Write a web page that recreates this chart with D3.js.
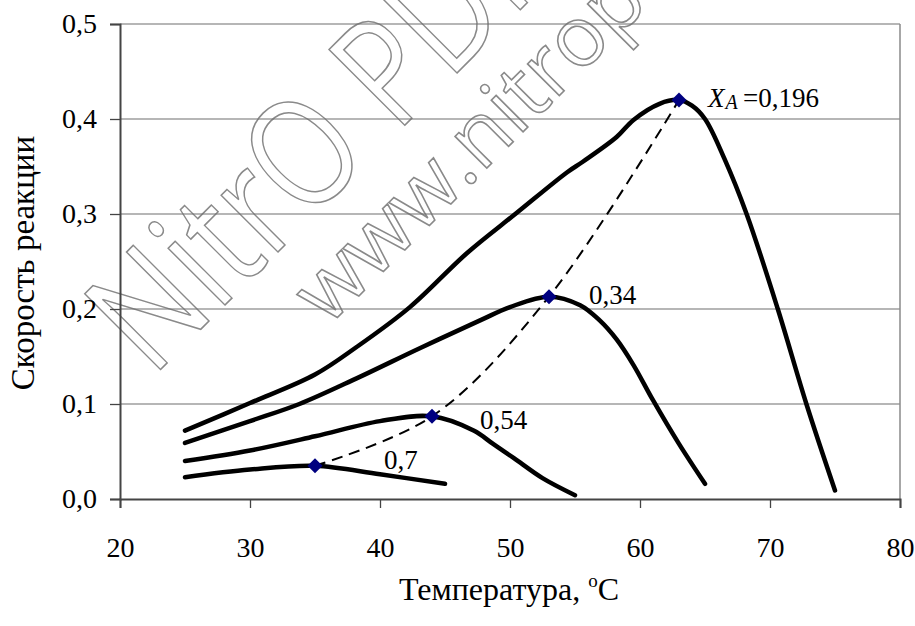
<!DOCTYPE html>
<html>
<head>
<meta charset="utf-8">
<script src="https://cdn.jsdelivr.net/npm/d3@7"></script>
<style>
  html, body { margin: 0; padding: 0; background: #fff; }
  svg { display: block; }
</style>
</head>
<body>
<svg id="chart" width="915" height="626"></svg>
<script>
// ---- data ----
const xTicks = [20, 30, 40, 50, 60, 70, 80];
const yTicks = [0.0, 0.1, 0.2, 0.3, 0.4, 0.5];

const t196 = [25, 30, 35, 38.2, 42.3, 46.7, 50.5, 54.4, 55.6, 58.2, 59.5, 61.5, 63, 64, 65, 66.5, 68.2, 70.6, 72.8, 75];
const r196 = [0.072, 0.101, 0.131, 0.160, 0.202, 0.259, 0.301, 0.344, 0.355, 0.381, 0.399, 0.416, 0.420, 0.414, 0.400, 0.358, 0.300, 0.200, 0.100, 0.009];

const t34 = [25, 30, 33.8, 38.2, 43.1, 47.7, 50, 53, 55.4, 56.9, 58.2, 59.5, 61, 63, 65];
const r34 = [0.059, 0.082, 0.100, 0.127, 0.159, 0.188, 0.202, 0.213, 0.204, 0.188, 0.168, 0.141, 0.104, 0.058, 0.016];

const t54 = [25, 30, 35, 40, 44, 47.2, 48.7, 50.3, 52.5, 55];
const r54 = [0.040, 0.051, 0.066, 0.082, 0.087, 0.072, 0.058, 0.043, 0.022, 0.004];

const t7 = [25, 30, 35, 40, 45];
const r7 = [0.023, 0.031, 0.035, 0.026, 0.016];

const peakT = [35, 44, 53, 63];
const peakR = [0.035, 0.087, 0.213, 0.420];

const curveLabels = ["0,196", "0,34", "0,54", "0,7"];

const xTitle = "Температура, ";
const yTitle = "Скорость реакции";

// ---- drawing ----
const svg = d3.select("#chart");
const W = 915, H = 626;
svg.append("rect").attr("width", W).attr("height", H).attr("fill", "#fff");

const x = d3.scaleLinear().domain([20, 80]).range([120, 900]);
const y = d3.scaleLinear().domain([0, 0.5]).range([499, 24]);
const serif = "'Liberation Serif', 'Times New Roman', serif";

// watermark (outlined text)
const wm = svg.append("g").attr("fill", "none").attr("stroke", "#8a8a8a").attr("stroke-width", 1.6)
  .style("font-family", "'Open Sans', 'DejaVu Sans', sans-serif");
wm.append("text").attr("transform", "translate(152,378) rotate(-45) scale(0.82,1)")
  .attr("font-size", 150).text("NitrO PDF");
wm.append("text").attr("transform", "translate(328,327) rotate(-45)")
  .attr("font-size", 84).text("www.nitropdf.com");

// gridlines
svg.append("g").selectAll("line").data(yTicks.filter(d => d > 0)).join("line")
  .attr("x1", x(20)).attr("x2", x(80))
  .attr("y1", d => y(d)).attr("y2", d => y(d))
  .attr("stroke", "#6e6e6e").attr("stroke-width", 1.2);

// right border
svg.append("line").attr("x1", x(80)).attr("x2", x(80)).attr("y1", y(0.5)).attr("y2", y(0))
  .attr("stroke", "#8a8a8a").attr("stroke-width", 1.5);

const fmt = d => d3.format(".1f")(d).replace(".", ",");

const gy = svg.append("g").attr("transform", `translate(${x(20)},0)`)
  .call(d3.axisLeft(y).tickValues(yTicks).tickSize(10).tickPadding(13).tickFormat(fmt));
const gx = svg.append("g").attr("transform", `translate(0,${y(0)})`)
  .call(d3.axisBottom(x).tickValues(xTicks).tickSize(9).tickPadding(29).tickFormat(d3.format("d")));
[gx, gy].forEach(g => {
  g.select(".domain").attr("stroke", "#444").attr("stroke-width", 2);
  g.selectAll(".tick line").attr("stroke", "#444").attr("stroke-width", 1.3);
  g.selectAll(".tick text").attr("fill", "#000").style("font-family", serif).style("font-size", "28px");
});

// curves
const line = d3.line().x(d => x(d[0])).y(d => y(d[1])).curve(d3.curveCatmullRom.alpha(0.5));
const series = [[t196, r196], [t34, r34], [t54, r54], [t7, r7]];
svg.append("g").selectAll("path").data(series).join("path")
  .attr("d", s => line(d3.zip(s[0], s[1])))
  .attr("fill", "none").attr("stroke", "#000").attr("stroke-width", 4.5)
  .attr("stroke-linecap", "round").attr("stroke-linejoin", "round");

// dashed optimum line
svg.append("path").attr("d", line(d3.zip(peakT, peakR)))
  .attr("fill", "none").attr("stroke", "#000").attr("stroke-width", 2)
  .attr("stroke-dasharray", "11,7");

// markers
svg.append("g").selectAll("path").data(d3.zip(peakT, peakR)).join("path")
  .attr("d", d => { const cx = x(d[0]), cy = y(d[1]), r = 7.5;
    return `M${cx},${cy - r}L${cx + r},${cy}L${cx},${cy + r}L${cx - r},${cy}Z`; })
  .attr("fill", "#000080");

// curve labels
const lab = svg.append("g").style("font-family", serif).style("font-size", "27px").attr("fill", "#000");
const xa = lab.append("text").attr("x", 708).attr("y", 107);
xa.append("tspan").style("font-style", "italic").text("X");
xa.append("tspan").style("font-style", "italic").style("font-size", "20px").attr("dy", 2).attr("dx", 1).text("A");
lab.append("text").attr("x", 743).attr("y", 107).text("=" + curveLabels[0]);
lab.append("text").attr("x", 589).attr("y", 304).text(curveLabels[1]);
lab.append("text").attr("x", 480).attr("y", 429).text(curveLabels[2]);
lab.append("text").attr("x", 384).attr("y", 469).text(curveLabels[3]);

// axis titles
const xt = svg.append("text").attr("x", 509).attr("y", 600).attr("text-anchor", "middle")
  .style("font-family", serif).style("font-size", "32px");
xt.append("tspan").text(xTitle);
xt.append("tspan").attr("dy", -13).style("font-size", "19px").text("o");
xt.append("tspan").attr("dy", 13).text("C");

svg.append("text").attr("transform", "translate(34,263) rotate(-90)").attr("text-anchor", "middle")
  .style("font-family", serif).style("font-size", "33px").text(yTitle);
</script>
</body>
</html>
